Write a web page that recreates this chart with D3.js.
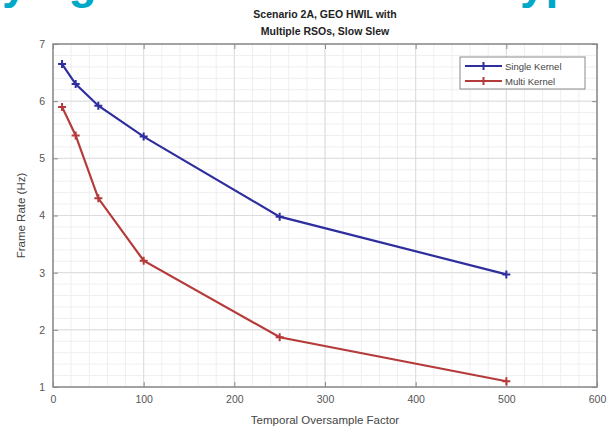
<!DOCTYPE html>
<html><head><meta charset="utf-8">
<script src="https://cdn.jsdelivr.net/npm/d3@7"></script>
<style>body{margin:0;background:#fff}svg{display:block}text{font-family:"Liberation Sans",Arial,sans-serif}</style>
</head><body>
<svg id="c" width="612" height="433"></svg>
<script>
const xValues = [10, 25, 50, 100, 250, 500];
const singleKernel = [6.65, 6.30, 5.92, 5.38, 3.98, 2.97];
const multiKernel = [5.90, 5.40, 4.30, 3.21, 1.87, 1.10];
const seriesNames = ["Single Kernel", "Multi Kernel"];
const xTicks = [0, 100, 200, 300, 400, 500, 600];
const yTicks = [1, 2, 3, 4, 5, 6, 7];
const titleLines = ["Scenario 2A, GEO HWIL with", "Multiple RSOs, Slow Slew"];

const svg = d3.select("#c");
const L = 53, R = 597, T = 44, B = 387;
const x = d3.scaleLinear().domain([0, 600]).range([L, R]);
const y = d3.scaleLinear().domain([1, 7]).range([B, T]);

// slide banner fragments (cut off at the top edge, as in the reference)
svg.append("text").attr("x", 2).attr("y", -2).attr("font-size", 46).attr("font-weight", "bold")
  .attr("fill", "#00a9c8").attr("font-family", "Open Sans, sans-serif").text("ying");
svg.append("text").attr("x", 520).attr("y", -2).attr("font-size", 46).attr("font-weight", "bold")
  .attr("fill", "#00a9c8").attr("font-family", "Open Sans, sans-serif").text("ype");

// minor grid
const g = svg.append("g");
g.selectAll(".mx").data(d3.range(0, 601, 20)).join("line")
  .attr("x1", d => x(d)).attr("x2", d => x(d)).attr("y1", T).attr("y2", B)
  .attr("stroke", "#efefef").attr("stroke-width", 1);
g.selectAll(".my").data(d3.range(1, 7.01, 0.2)).join("line")
  .attr("y1", d => y(d)).attr("y2", d => y(d)).attr("x1", L).attr("x2", R)
  .attr("stroke", "#efefef").attr("stroke-width", 1);
// major grid
g.selectAll(".gx").data(xTicks).join("line")
  .attr("x1", d => x(d)).attr("x2", d => x(d)).attr("y1", T).attr("y2", B)
  .attr("stroke", "#dcdcdc").attr("stroke-width", 1);
g.selectAll(".gy").data(yTicks).join("line")
  .attr("y1", d => y(d)).attr("y2", d => y(d)).attr("x1", L).attr("x2", R)
  .attr("stroke", "#dcdcdc").attr("stroke-width", 1);

// box
svg.append("rect").attr("x", L).attr("y", T).attr("width", R - L).attr("height", B - T)
  .attr("fill", "none").attr("stroke", "#8a8a8a").attr("stroke-width", 1.5);

// axes
const xa = svg.append("g").attr("transform", `translate(0,${B})`)
  .call(d3.axisBottom(x).tickValues(xTicks).tickSize(-5).tickPadding(9).tickFormat(d3.format("d")));
const ya = svg.append("g").attr("transform", `translate(${L},0)`)
  .call(d3.axisLeft(y).tickValues(yTicks).tickSize(-5).tickPadding(8).tickFormat(d3.format("d")));
[xa, ya].forEach(a => {
  a.select(".domain").remove();
  a.selectAll("line").attr("stroke", "#8a8a8a");
  a.selectAll("text").attr("font-size", 10.5).attr("fill", "#555").attr("font-family", "Liberation Sans, Arial, sans-serif");
});
// top/right ticks
svg.append("g").attr("transform", `translate(0,${T})`)
  .call(d3.axisTop(x).tickValues(xTicks).tickSize(-5).tickFormat(""))
  .call(a => { a.select(".domain").remove(); a.selectAll("line").attr("stroke", "#8a8a8a"); });
svg.append("g").attr("transform", `translate(${R},0)`)
  .call(d3.axisRight(y).tickValues(yTicks).tickSize(-5).tickFormat(""))
  .call(a => { a.select(".domain").remove(); a.selectAll("line").attr("stroke", "#8a8a8a"); });

// title
svg.selectAll(".title").data(titleLines).join("text")
  .attr("x", (L + R) / 2).attr("y", (d, i) => 18 + i * 17)
  .attr("text-anchor", "middle").attr("font-size", 10.5).attr("font-weight", "bold")
  .attr("fill", "#222").text(d => d);

// axis labels
svg.append("text").attr("x", (L + R) / 2).attr("y", 424).attr("text-anchor", "middle")
  .attr("font-size", 11.5).attr("fill", "#444").text("Temporal Oversample Factor");
svg.append("text").attr("transform", `translate(25,${(T + B) / 2}) rotate(-90)`)
  .attr("text-anchor", "middle").attr("font-size", 11.5).attr("fill", "#444").text("Frame Rate (Hz)");

// series
const colors = ["#2e2e9e", "#b53a3a"];
const series = [singleKernel, multiKernel];
const line = d3.line().x((d, i) => x(xValues[i])).y(d => y(d));
series.forEach((s, k) => {
  svg.append("path").datum(s).attr("d", line).attr("fill", "none")
    .attr("stroke", colors[k]).attr("stroke-width", 2.2);
  svg.append("g").selectAll("path").data(s).join("path")
    .attr("transform", (d, i) => `translate(${x(xValues[i])},${y(d)})`)
    .attr("d", "M-4,0H4M0,-4V4").attr("stroke", colors[k]).attr("stroke-width", 2);
});

// legend
const lg = svg.append("g");
lg.append("rect").attr("x", 460).attr("y", 57).attr("width", 125).attr("height", 32)
  .attr("fill", "#fff").attr("stroke", "#8a8a8a").attr("stroke-width", 1);
seriesNames.forEach((n, k) => {
  const yy = 66 + k * 15;
  lg.append("line").attr("x1", 465).attr("x2", 502).attr("y1", yy).attr("y2", yy)
    .attr("stroke", colors[k]).attr("stroke-width", 2);
  lg.append("path").attr("transform", `translate(483.5,${yy})`).attr("d", "M-4,0H4M0,-4V4")
    .attr("stroke", colors[k]).attr("stroke-width", 2);
  lg.append("text").attr("x", 505).attr("y", yy + 3.5).attr("font-size", 9.5).attr("fill", "#444").text(n);
});
</script>
</body></html>
